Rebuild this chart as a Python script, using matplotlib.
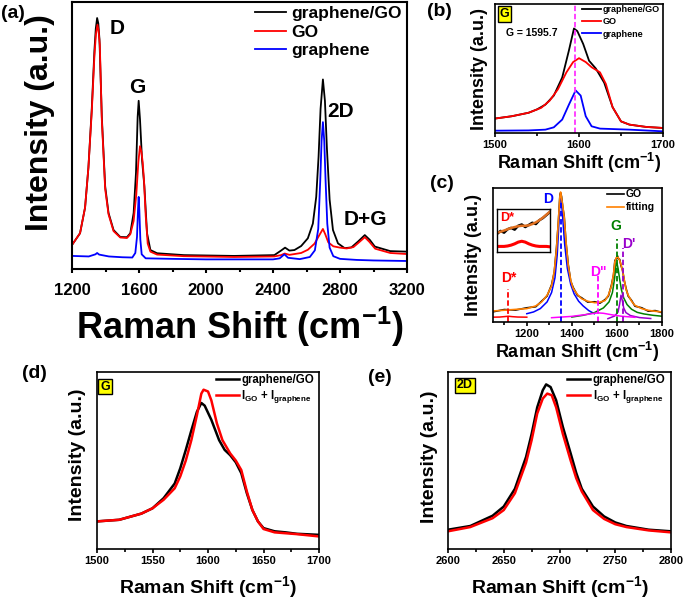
import matplotlib
matplotlib.use("Agg")
import matplotlib.pyplot as plt
from matplotlib.ticker import MultipleLocator

plt.rcParams['font.family'] = ['Liberation Sans', 'DejaVu Sans']
plt.rcParams['font.weight'] = 'bold'
plt.rcParams['axes.labelweight'] = 'bold'
plt.rcParams['mathtext.fontset'] = 'custom'
plt.rcParams['mathtext.rm'] = 'Liberation Sans:bold'
plt.rcParams['mathtext.default'] = 'rm'

W, H = 685, 600

# ---- (a) full spectra ----
a_hyb_x = [1200, 1248, 1278, 1298, 1318, 1334, 1342, 1350, 1357, 1364, 1378, 1398, 1418, 1448, 1488, 1528,
           1548, 1568, 1582, 1592, 1598, 1606, 1618, 1632, 1648, 1668, 1708, 1868, 2168, 2408, 2448, 2472,
           2498, 2528, 2568, 2608, 2638, 2658, 2672, 2684, 2698, 2710, 2722, 2738, 2758, 2788, 2828, 2868,
           2908, 2948, 2978, 3008, 3100, 3200]
a_hyb_y = [9, 13.4, 23, 38, 60, 82, 90, 94, 92, 86, 57, 31, 21, 14.6, 12, 11.9,
           13.4, 21, 36, 57, 63, 56, 41, 31, 13.4, 7.1, 5.9, 5.2, 4.9, 5.2, 6.9, 8,
           6.9, 7.1, 8.6, 11.5, 17, 27, 42, 60, 71, 63, 45, 26, 14.6, 9.6, 7.8, 8.1,
           10.3, 12.7, 10.9, 8.4, 6.7, 6.5]
a_go_x = [1200, 1248, 1278, 1298, 1318, 1334, 1343, 1352, 1358, 1366, 1378, 1398, 1418, 1448, 1488, 1528,
          1548, 1568, 1584, 1596, 1606, 1614, 1622, 1630, 1640, 1652, 1668, 1708, 1868, 2168, 2408, 2448,
          2470, 2498, 2568, 2608, 2648, 2675, 2698, 2712, 2730, 2760, 2800, 2840, 2880, 2910, 2948, 2975,
          3010, 3100, 3200]
a_go_y = [9, 13.4, 23, 38, 59, 80, 88, 91.5, 89.5, 84, 56, 30, 20.5, 14.2, 11.8, 11.6,
          13, 18, 28, 40, 46, 44, 40, 33, 20, 9.5, 6.5, 5.4, 4.8, 4.5, 4.7, 5.2,
          5.8, 5.3, 6, 7.2, 9.5, 12.5, 15, 13, 10, 8.5, 8, 7.7, 8.2, 9.8, 11.9, 10.2,
          7.6, 6, 5.6]
a_gr_x = [1200, 1300, 1340, 1350, 1362, 1420, 1500, 1560, 1578, 1588, 1594, 1598, 1602, 1608, 1616, 1640,
          1800, 2000, 2400, 2440, 2468, 2490, 2560, 2620, 2650, 2670, 2682, 2690, 2698, 2706, 2714, 2724,
          2738, 2760, 2800, 2900, 3000, 3200]
a_gr_y = [4.9, 4.7, 5.5, 6.0, 5.4, 4.7, 4.4, 4.3, 6, 12, 22, 27, 22, 11, 5.5, 4,
          3.8, 3.6, 3.6, 4.0, 5.5, 4.2, 3.7, 4.5, 7, 15, 33, 48, 55, 48, 33, 17,
          8, 4.8, 3.8, 3.4, 3.2, 3.0]

# ---- (b) G band zoom ----
b_hyb_x = [1500, 1520, 1540, 1550, 1560, 1570, 1580, 1588, 1594, 1598, 1605, 1612, 1620, 1630, 1640, 1650, 1660, 1680, 1700]
b_hyb_y = [11.2, 13, 15.7, 18.3, 22, 29, 43, 64, 81, 79, 69, 56, 50, 39, 20, 9, 6.5, 4.7, 3.9]
b_go_x = [1500, 1520, 1540, 1555, 1565, 1575, 1585, 1593, 1600, 1608, 1615, 1625, 1632, 1640, 1650, 1660, 1680, 1700]
b_go_y = [11.2, 13, 15.7, 19.5, 25, 34, 47, 55, 58, 55, 51, 47, 38, 20, 9, 6.5, 4.7, 3.9]
b_gr_x = [1500, 1540, 1560, 1570, 1580, 1588, 1596, 1602, 1608, 1615, 1625, 1660, 1700]
b_gr_y = [1.8, 2.0, 2.6, 4.4, 10.4, 22, 33, 29, 13, 5.2, 3.4, 2.6, 1.3]
g_pos = 1595.7

# ---- (c) GO fitting ----
c_x = [1050, 1100, 1150, 1200, 1240, 1266, 1290, 1310, 1322, 1332, 1340, 1347, 1350, 1354, 1360, 1366,
       1374, 1384, 1395, 1406, 1425, 1443, 1470, 1502, 1525, 1547, 1562, 1576, 1585, 1591, 1597, 1603,
       1606, 1612, 1618, 1625, 1633, 1641, 1650, 1665, 1680, 1710, 1739, 1770, 1800]
c_fit_y = [8.2, 8.8, 9.4, 10, 12, 15, 20, 27, 38, 55, 75, 94, 97, 93, 86, 78,
           60, 42, 31, 25, 20.5, 17.4, 15.5, 14.4, 14.8, 16, 20, 27, 36, 45, 48, 48.5,
           48, 46, 43, 38, 31, 24, 20, 15.5, 12.4, 10, 8.7, 8, 7.5]
c_go_y = [7.6, 9.3, 8.9, 10.6, 11.4, 15.6, 19.4, 27.8, 37.2, 55.8, 74.2, 94.8, 96.4, 93.8, 85.2, 78.9,
          59.1, 42.8, 30.3, 25.7, 19.8, 18.1, 14.9, 15.1, 14.1, 16.7, 19.3, 27.8, 35.2, 45.9, 47.3, 49.2,
          47.2, 46.8, 42.1, 38.7, 30.4, 24.8, 19.3, 16.1, 11.8, 10.6, 8.1, 8.5, 7.0]
c_d_x = [1200, 1230, 1260, 1290, 1310, 1325, 1335, 1342, 1347, 1350, 1354, 1360, 1368, 1380, 1395, 1410, 1430, 1450, 1475, 1500]
c_d_y = [6.2, 7.5, 10, 15, 22, 33, 50, 72, 90, 95, 90, 76, 58, 40, 28, 21, 15.5, 12, 8.5, 6.2]
c_g_x = [1400, 1450, 1500, 1540, 1565, 1580, 1590, 1596, 1600, 1605, 1612, 1620, 1630, 1645, 1665, 1690, 1720, 1760, 1800]
c_g_y = [3.7, 5, 7, 10.5, 15, 22, 33, 43.5, 44, 40, 32, 24, 18, 13, 9.5, 7.2, 6, 5, 4.3]
c_dp_x = [1560, 1590, 1605, 1612, 1618, 1624, 1630, 1640, 1660, 1700, 1750]
c_dp_y = [2.5, 4.5, 7.5, 13.5, 20, 16, 10.5, 7, 4.8, 3.3, 2.6]
c_dpp_x = [1310, 1400, 1460, 1500, 1517, 1540, 1580, 1620, 1680]
c_dpp_y = [3.2, 4.2, 5.5, 6.5, 6.8, 6.5, 5.3, 4.3, 3.5]
c_ds_x = [1050, 1080, 1100, 1118, 1135, 1160, 1200]
c_ds_y = [3.6, 3.7, 4.0, 4.3, 4.0, 3.7, 3.6]
peak_names = ['D', 'G', "D'", 'D"', 'D*']
peak_pos = [1350, 1600, 1625, 1517, 1118]
peak_top = [90, 62, 55, 34, 25]
peak_colors = ['#0000ff', '#008000', '#9900cc', '#ff00ff', '#ff0000']
# inset around D*
ins_x = [1050, 1060, 1070, 1080, 1090, 1100, 1110, 1120, 1130, 1140, 1150, 1160, 1170, 1180, 1190, 1200]
ins_go_y = [4.2, 4.9, 4.5, 5.3, 5.6, 5.2, 6.1, 6.4, 5.8, 6.3, 6.8, 6.5, 7.4, 7.9, 8.6, 9.3]
ins_fit_y = [4.5, 4.7, 5.0, 5.3, 5.6, 5.8, 6.0, 6.1, 6.1, 6.2, 6.5, 6.9, 7.4, 8.0, 8.7, 9.4]
ins_ds_y = [1.3, 1.3, 1.3, 1.4, 1.6, 1.9, 2.3, 2.5, 2.3, 1.9, 1.6, 1.4, 1.3, 1.3, 1.3, 1.2]

# ---- (d) G band: measured vs sum ----
d_hyb_x = [1500, 1520, 1540, 1550, 1560, 1570, 1575, 1580, 1585, 1590, 1594, 1597, 1603, 1610, 1615, 1620,
           1625, 1630, 1635, 1640, 1645, 1650, 1660, 1670, 1680, 1700]
d_hyb_y = [15.6, 16.5, 20, 23, 28.7, 37, 45.6, 56, 67, 77.5, 82.5, 81, 73, 61.5, 56, 53,
           49, 42.8, 31.5, 22, 15.6, 11.8, 10, 9.4, 8.6, 8]
d_sum_x = [1500, 1520, 1540, 1550, 1560, 1570, 1575, 1580, 1585, 1590, 1594, 1596, 1600, 1603, 1608, 1613,
           1620, 1625, 1630, 1635, 1640, 1645, 1650, 1660, 1680, 1700]
d_sum_y = [15.6, 16.5, 20, 23, 27.8, 34.3, 41, 50, 61.5, 75.6, 87.8, 90, 89, 84, 71, 61.5,
           54, 50, 44.6, 32.5, 22, 15.6, 11.3, 9.4, 8.4, 7.1]

# ---- (e) 2D band: measured vs sum ----
e_hyb_x = [2600, 2620, 2640, 2650, 2660, 2670, 2675, 2680, 2685, 2688, 2692, 2697, 2703, 2710, 2715, 2720,
           2730, 2740, 2750, 2760, 2780, 2800]
e_hyb_y = [10.9, 13, 18.8, 24, 34, 52, 65, 80, 89.7, 93, 91.5, 84, 69, 54, 43, 34,
           24, 18.4, 15, 13, 10.9, 10]
e_sum_x = [2600, 2620, 2640, 2650, 2660, 2670, 2675, 2680, 2685, 2689, 2693, 2697, 2703, 2710, 2715, 2720,
           2730, 2740, 2750, 2760, 2780, 2800]
e_sum_y = [10, 12.4, 17.4, 22, 31.5, 48.8, 61.5, 76.5, 85, 87.8, 86.9, 80, 65, 50, 40, 32.5,
           22, 17, 14, 12.4, 10.5, 9.4]

XLAB = 'Raman Shift (cm$^{-1}$)'
YLAB = 'Intensity (a.u.)'


def rect(x0, y0, x1, y1):
    return [x0 / W, 1 - y1 / H, (x1 - x0) / W, (y1 - y0) / H]


def style(ax, xlim, major, minor, size, lw=1.2):
    ax.set_xlim(xlim)
    ax.set_ylim(0, 100)
    ax.set_yticks([])
    ax.xaxis.set_major_locator(MultipleLocator(major))
    ax.xaxis.set_minor_locator(MultipleLocator(minor))
    ax.tick_params(axis='x', which='both', direction='out', labelsize=size, width=lw, pad=2)
    ax.tick_params(axis='x', which='major', length=3)
    ax.tick_params(axis='x', which='minor', length=2)
    for s in ax.spines.values():
        s.set_linewidth(lw)


def tag(ax, txt, x, y, size=9):
    ax.text(x, y, txt, transform=ax.transAxes, fontsize=size, ha='center', va='center',
            bbox=dict(boxstyle='square,pad=0.15', facecolor='#ffff00', edgecolor='black', linewidth=1))


fig = plt.figure(figsize=(W / 100, H / 100), dpi=100)

# (a)
ax = fig.add_axes(rect(72, 2, 407, 269))
ax.plot(a_hyb_x, a_hyb_y, color='black', lw=1.3, label='graphene/GO')
ax.plot(a_go_x, a_go_y, color='#ff0000', lw=1.3, label='GO')
ax.plot(a_gr_x, a_gr_y, color='#0000ff', lw=1.3, label='graphene')
style(ax, (1200, 3200), 400, 200, 12, 1.5)
ax.tick_params(axis='x', pad=7)
ax.set_xlabel(XLAB, fontsize=26, labelpad=5)
ax.set_ylabel(YLAB, fontsize=23, labelpad=12)
ax.yaxis.label.set_y(0.55)
ax.legend(loc='upper left', bbox_to_anchor=(0.545, 0.985), frameon=False, fontsize=12.5,
          handlelength=1.8, handletextpad=0.3, labelspacing=0.2, borderpad=0, borderaxespad=0)
for t, x, y in [('D', 1470, 90), ('G', 1588, 68), ('2D', 2806, 59), ('D+G', 2950, 18.5)]:
    ax.text(x, y, t, fontsize=15, ha='center', va='center')

# (b)
ax = fig.add_axes(rect(495, 4, 663, 133))
ax.plot(b_hyb_x, b_hyb_y, color='black', lw=1.3, label='graphene/GO')
ax.plot(b_go_x, b_go_y, color='#ff0000', lw=1.3, label='GO')
ax.plot(b_gr_x, b_gr_y, color='#0000ff', lw=1.3, label='graphene')
ax.axvline(g_pos, color='#ff33ff', lw=1.3, ls=(0, (3, 1.5)))
style(ax, (1500, 1700), 100, 50, 8)
ax.set_xlabel(XLAB, fontsize=13, labelpad=1)
ax.set_ylabel(YLAB, fontsize=13, labelpad=5)
ax.legend(loc='upper left', bbox_to_anchor=(0.52, 0.99), frameon=False, fontsize=6.5,
          handlelength=2.1, handletextpad=0.2, labelspacing=0.35, borderpad=0, borderaxespad=0)
ax.text(0.22, 0.775, 'G = %.1f' % g_pos, transform=ax.transAxes, fontsize=7.5, ha='center', va='center')
tag(ax, 'G', 0.057, 0.925, 9)

# (c)
ax = fig.add_axes(rect(493, 188, 662, 322))
ax.plot(c_x, c_go_y, color='black', lw=1.2, label='GO')
ax.plot(c_d_x, c_d_y, color=peak_colors[0], lw=1.1)
ax.plot(c_g_x, c_g_y, color=peak_colors[1], lw=1.1)
ax.plot(c_dp_x, c_dp_y, color=peak_colors[2], lw=1.1)
ax.plot(c_dpp_x, c_dpp_y, color=peak_colors[3], lw=1.1)
ax.plot(c_ds_x, c_ds_y, color=peak_colors[4], lw=1.1)
ax.plot(c_x, c_fit_y, color='#ff8000', lw=1.2, label='fitting')
for n, p, top, c in zip(peak_names, peak_pos, peak_top, peak_colors):
    ax.plot([p, p], [0, top], color=c, lw=1.3, ls=(0, (3, 1.5)))
style(ax, (1050, 1800), 200, 100, 8)
ax.set_xlabel(XLAB, fontsize=13, labelpad=1)
ax.set_ylabel(YLAB, fontsize=13, labelpad=8)
ax.legend(loc='upper left', bbox_to_anchor=(0.675, 0.99), frameon=False, fontsize=7.5,
          handlelength=1.6, handletextpad=0.2, labelspacing=0.3, borderpad=0, borderaxespad=0)
for t, x, y, c in [('D', 1295, 92, peak_colors[0]), ('G', 1596, 72, peak_colors[1]),
                   ("D'", 1651, 58, peak_colors[2]), ('D"', 1517, 37, peak_colors[3]),
                   ('D*', 1118, 33, peak_colors[4])]:
    ax.text(x, y, t, color=c, fontsize=10, ha='center', va='center')

ins = fig.add_axes(rect(497, 209, 550, 252))
ins.plot(ins_x, ins_go_y, color='black', lw=1.8)
ins.plot(ins_x, ins_fit_y, color='#e07020', lw=1.8)
ins.plot(ins_x, ins_ds_y, color='#ff0000', lw=2.2)
ins.set_xlim(1050, 1200)
ins.set_ylim(0, 10)
ins.set_xticks([])
ins.set_yticks([])
for s in ins.spines.values():
    s.set_linewidth(1)
ins.text(0.2, 0.78, 'D*', transform=ins.transAxes, color='#ff0000', fontsize=9, ha='center', va='center')

# (d)
ax = fig.add_axes(rect(97, 372, 319, 549))
ax.plot(d_hyb_x, d_hyb_y, color='black', lw=1.8, label='graphene/GO')
ax.plot(d_sum_x, d_sum_y, color='#ff0000', lw=1.8, label='I$_{GO}$ + I$_{graphene}$')
style(ax, (1500, 1700), 50, 25, 8)
ax.set_xlabel(XLAB, fontsize=14, labelpad=6)
ax.set_ylabel(YLAB, fontsize=14, labelpad=8)
ax.yaxis.label.set_y(0.53)
ax.legend(loc='upper left', bbox_to_anchor=(0.535, 0.99), frameon=False, fontsize=8.3,
          handlelength=2.0, handletextpad=0.2, labelspacing=0.2, borderpad=0, borderaxespad=0)
tag(ax, 'G', 0.036, 0.918, 9)

# (e)
ax = fig.add_axes(rect(448, 372, 671, 549))
ax.plot(e_hyb_x, e_hyb_y, color='black', lw=1.8, label='graphene/GO')
ax.plot(e_sum_x, e_sum_y, color='#ff0000', lw=1.8, label='I$_{GO}$ + I$_{graphene}$')
style(ax, (2600, 2800), 50, 25, 8)
ax.set_xlabel(XLAB, fontsize=14, labelpad=6)
ax.set_ylabel(YLAB, fontsize=14, labelpad=7)
ax.yaxis.label.set_y(0.52)
ax.legend(loc='upper left', bbox_to_anchor=(0.535, 0.99), frameon=False, fontsize=8.3,
          handlelength=2.0, handletextpad=0.2, labelspacing=0.2, borderpad=0, borderaxespad=0)
tag(ax, '2D', 0.076, 0.924, 9)

# panel letters
for t, x, y in [('(a)', 1, 14), ('(b)', 427, 12), ('(c)', 430, 184), ('(d)', 22, 374), ('(e)', 368, 378)]:
    fig.text(x / W, 1 - y / H, t, fontsize=14, ha='left', va='center')

fig.savefig('out.png', dpi=100)
